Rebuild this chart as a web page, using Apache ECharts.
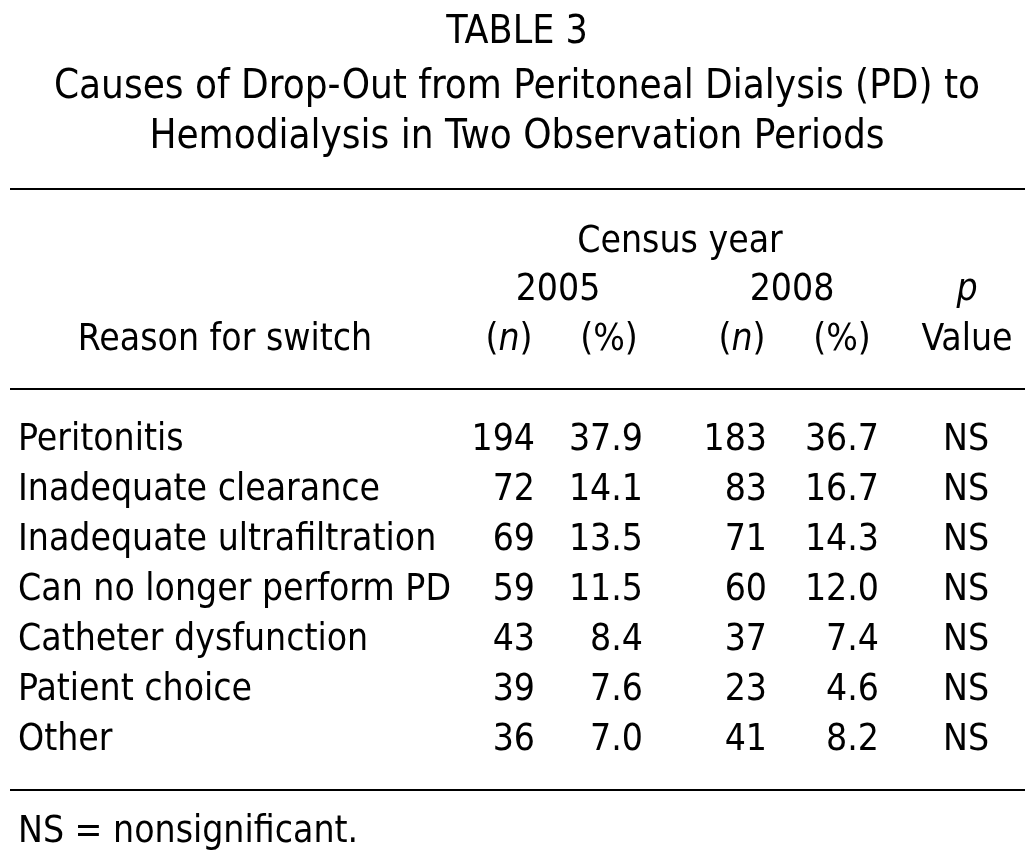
<!DOCTYPE html>
<html><head><meta charset="utf-8">
<script src="https://cdn.jsdelivr.net/npm/echarts@6/dist/echarts.min.js"></script>
<style>html,body{margin:0;padding:0;background:#fff}#c{width:1034px;height:868px}</style>
</head><body><div id="c"></div>
<script>
// ---- data ----
var titleLines = ['TABLE 3', 'Causes of Drop-Out from Peritoneal Dialysis (PD) to', 'Hemodialysis in Two Observation Periods'];
var reasons = ['Peritonitis', 'Inadequate clearance', 'Inadequate ultrafiltration', 'Can no longer perform PD', 'Catheter dysfunction', 'Patient choice', 'Other'];
var n2005 = ['194', '72', '69', '59', '43', '39', '36'];
var pct2005 = ['37.9', '14.1', '13.5', '11.5', '8.4', '7.6', '7.0'];
var n2008 = ['183', '83', '71', '60', '37', '23', '41'];
var pct2008 = ['36.7', '16.7', '14.3', '12.0', '7.4', '4.6', '8.2'];
var pValue = ['NS', 'NS', 'NS', 'NS', 'NS', 'NS', 'NS'];
var footnote = 'NS = nonsignificant.';

// ---- layout ----
var FONT = '"DejaVu Sans Condensed", "DejaVu Sans", sans-serif';
var FS = 37;
var INK = '#000';
var columns = [
  {vals: reasons, x: 18, align: 'left'},
  {vals: n2005, x: 535, align: 'right'},
  {vals: pct2005, x: 643, align: 'right'},
  {vals: n2008, x: 767, align: 'right'},
  {vals: pct2008, x: 879, align: 'right'},
  {vals: pValue, x: 966, align: 'center'}
];

function txt(text, x, y, align, size, rich) {
  var s = {text: text, x: x, y: y, textAlign: align, textVerticalAlign: 'middle',
    font: size + 'px ' + FONT, fill: INK};
  if (rich) s.rich = rich;
  return {type: 'text', style: s, silent: true};
}
function hline(y) {
  return {type: 'line', shape: {x1: 10, y1: y, x2: 1025, y2: y}, style: {stroke: INK, lineWidth: 2.2}, silent: true};
}
var ital = {i: {fontStyle: 'italic', fontSize: FS, fontFamily: FONT, fill: INK}};

var graphics = [
  txt(titleLines[0], 517, 33, 'center', 39),
  txt(titleLines[1], 517, 88, 'center', 40),
  txt(titleLines[2], 517, 138, 'center', 40),
  hline(189),
  txt('Census year', 680, 242, 'center', FS),
  txt('2005', 558, 290, 'center', FS),
  txt('2008', 792, 290, 'center', FS),
  txt('{i|p}', 967, 290, 'center', FS, ital),
  txt('Reason for switch', 225, 340, 'center', FS),
  txt('({i|n})', 509, 340, 'center', FS, ital),
  txt('(%)', 609, 340, 'center', FS),
  txt('({i|n})', 742, 340, 'center', FS, ital),
  txt('(%)', 842, 340, 'center', FS),
  txt('Value', 967, 340, 'center', FS),
  hline(389),
  hline(790),
  txt(footnote, 18, 832, 'left', FS)
];

var series = columns.map(function (col) {
  return {
    type: 'custom',
    data: col.vals.map(function (v, i) { return [col.x, reasons[i], v]; }),
    encode: {x: 0, y: 1},
    renderItem: function (params, api) {
      var p = api.coord([api.value(0), api.value(1)]);
      return {type: 'text', style: {text: col.vals[params.dataIndex], x: p[0], y: p[1],
        textAlign: col.align, textVerticalAlign: 'middle', font: FS + 'px ' + FONT, fill: INK}};
    },
    silent: true, animation: false
  };
});

var chart = echarts.init(document.getElementById('c'));
chart.setOption({
  animation: false,
  grid: {left: 0, right: 0, top: 415, height: 350},
  xAxis: {type: 'value', min: 0, max: 1034, show: false},
  yAxis: {type: 'category', data: reasons, inverse: true, show: false},
  graphic: graphics,
  series: series
});
</script></body></html>
